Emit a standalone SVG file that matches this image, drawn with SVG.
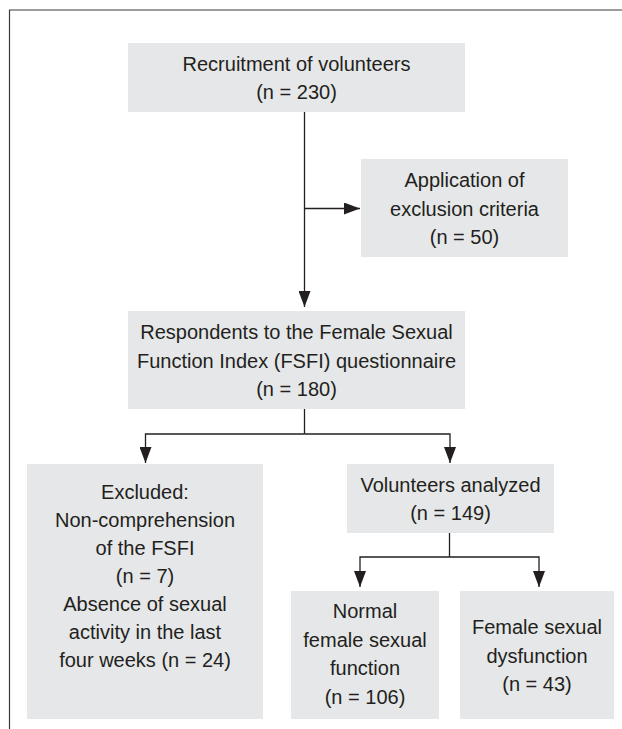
<svg xmlns="http://www.w3.org/2000/svg" width="622" height="729" viewBox="0 0 622 729">
<style>
.box{fill:#e6e7e8;stroke:none}
.t{font-family:"Liberation Sans",Arial,sans-serif;font-size:20px;fill:#231f20;text-anchor:middle}
.c{fill:none;stroke:#231f20;stroke-width:1.3}
.frame{fill:none;stroke:#3a3a3a;stroke-width:1.2}
</style>
<defs>
<marker id="ah" markerUnits="userSpaceOnUse" markerWidth="16" markerHeight="12" refX="16" refY="6" orient="auto">
<path d="M0,0 L16,6 L0,12 Z" fill="#231f20"/>
</marker>
</defs>
<rect width="622" height="729" fill="#ffffff"/>
<path class="frame" d="M9.5,729 V10 H622"/>
<g id="recruitment">
<rect class="box" x="128" y="43" width="337" height="69"/>
<text class="t" x="296.5" y="71">Recruitment of volunteers</text>
<text class="t" x="296.5" y="99">(n = 230)</text>
</g>
<g id="exclusion">
<rect class="box" x="361" y="159" width="207" height="98"/>
<text class="t" x="464.5" y="187">Application of</text>
<text class="t" x="464.5" y="216">exclusion criteria</text>
<text class="t" x="464.5" y="244">(n = 50)</text>
</g>
<g id="respondents">
<rect class="box" x="128" y="311" width="337" height="98"/>
<text class="t" x="296.5" y="339">Respondents to the Female Sexual</text>
<text class="t" x="296.5" y="368">Function Index (FSFI) questionnaire</text>
<text class="t" x="296.5" y="396">(n = 180)</text>
</g>
<g id="excluded">
<rect class="box" x="27" y="464" width="236" height="255"/>
<text class="t" x="145" y="499">Excluded:</text>
<text class="t" x="145" y="527">Non-comprehension</text>
<text class="t" x="145" y="555">of the FSFI</text>
<text class="t" x="145" y="583">(n = 7)</text>
<text class="t" x="145" y="611">Absence of sexual</text>
<text class="t" x="145" y="639">activity in the last</text>
<text class="t" x="145" y="667">four weeks (n = 24)</text>
</g>
<g id="analyzed">
<rect class="box" x="347" y="464" width="207" height="69"/>
<text class="t" x="450.5" y="492">Volunteers analyzed</text>
<text class="t" x="450.5" y="520">(n = 149)</text>
</g>
<g id="normal">
<rect class="box" x="291" y="591" width="148" height="128"/>
<text class="t" x="365" y="618">Normal</text>
<text class="t" x="365" y="647">female sexual</text>
<text class="t" x="365" y="675">function</text>
<text class="t" x="365" y="704">(n = 106)</text>
</g>
<g id="dysfunction">
<rect class="box" x="460" y="591" width="154" height="128"/>
<text class="t" x="537" y="634">Female sexual</text>
<text class="t" x="537" y="663">dysfunction</text>
<text class="t" x="537" y="691">(n = 43)</text>
</g>
<g id="connectors">
<path class="c" d="M304.5,112 V307" marker-end="url(#ah)"/>
<path class="c" d="M304.5,208.5 H360" marker-end="url(#ah)"/>
<path class="c" d="M304.5,409 V434"/>
<path class="c" d="M304.5,434 H145.5 V463" marker-end="url(#ah)"/>
<path class="c" d="M304.5,434 H450 V463" marker-end="url(#ah)"/>
<path class="c" d="M449.5,533 V557"/>
<path class="c" d="M449.5,557 H360 V587" marker-end="url(#ah)"/>
<path class="c" d="M449.5,557 H539 V587" marker-end="url(#ah)"/>
</g>
</svg>
